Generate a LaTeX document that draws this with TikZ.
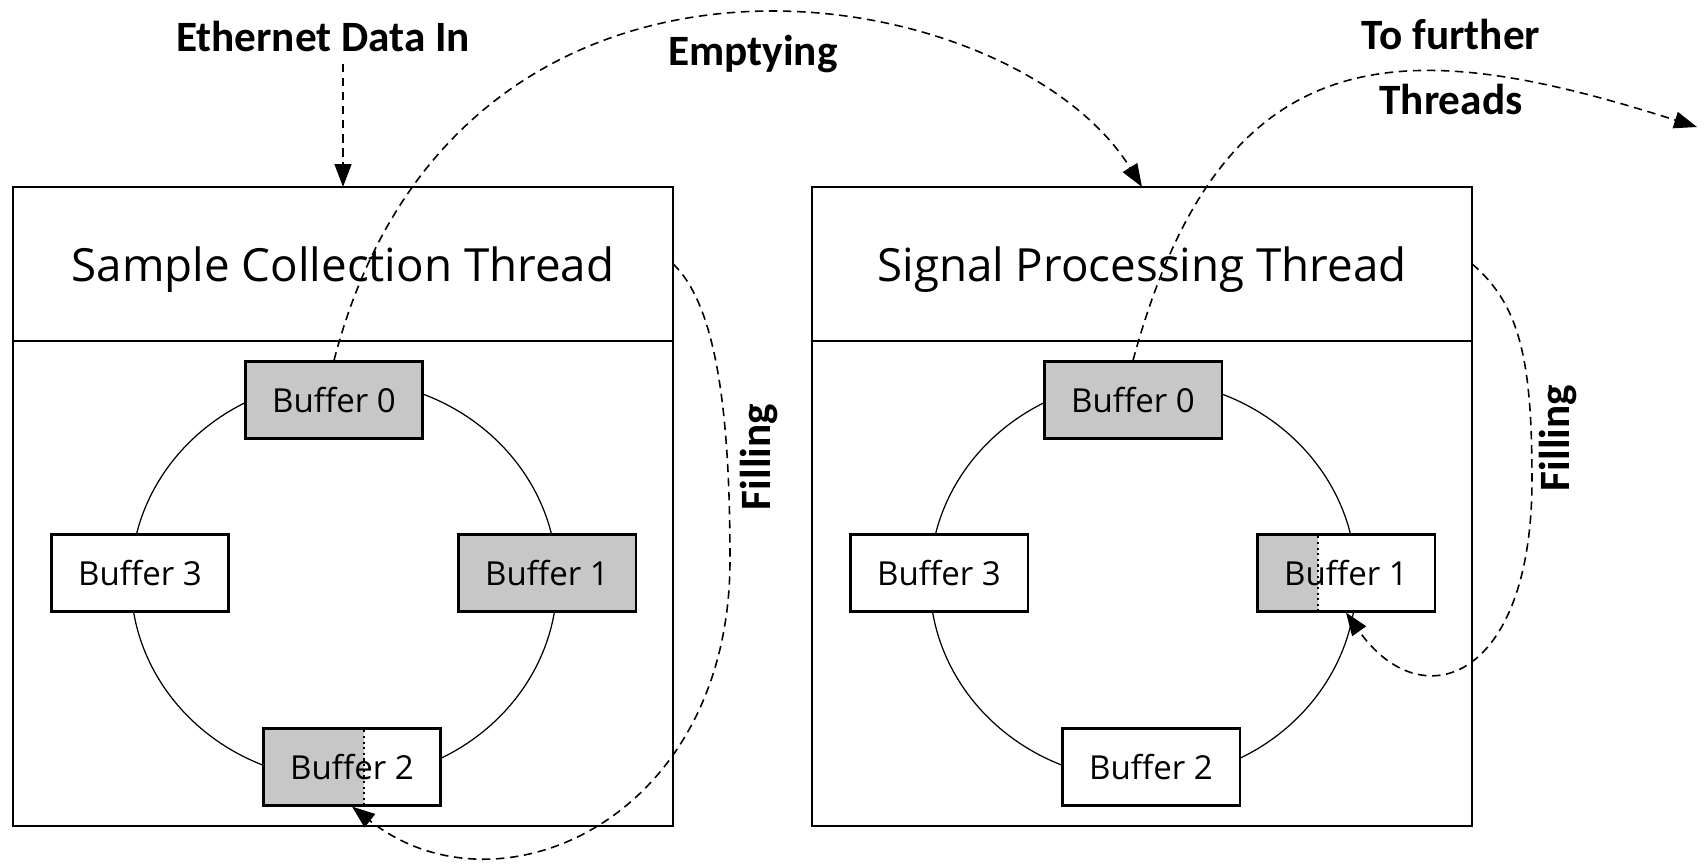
\documentclass[tikz,border=0pt]{standalone}
\usepackage{fontspec}
\setmainfont{Open Sans}
\newfontfamily\labelfont{Carlito}
\usetikzlibrary{arrows.meta,calc,positioning}
\colorlet{bufgray}{black!22}

\begin{document}
\begin{tikzpicture}[x=0.01cm, y=-0.01cm,
    thread/.style={draw, line width=0.6pt, minimum width=6.6cm, inner sep=0pt, outer sep=0pt},
    header/.style={minimum height=1.54cm, text depth=0pt, font=\fontsize{13}{16}\selectfont},
    body/.style={minimum height=4.85cm},
    buffer/.style={draw, fill=white, line width=0.6pt, minimum width=1.77cm, minimum height=0.77cm,
        inner sep=0pt, font=\fontsize{9.4}{11}\selectfont},
    full/.style={buffer, fill=bufgray},
    part/.style={buffer, path picture={
        \fill[bufgray] (path picture bounding box.south west) rectangle
            ($(path picture bounding box.north west)!#1!(path picture bounding box.north east)$);
        \draw[line width=0.6pt, densely dotted]
            ($(path picture bounding box.south west)!#1!(path picture bounding box.south east)$) --
            ($(path picture bounding box.north west)!#1!(path picture bounding box.north east)$);}},
    ring/.style={line width=0.35pt},
    flow/.style={line width=0.45pt, dash pattern=on 2.4pt off 1.6pt, -{Triangle[length=6.5pt,width=4.8pt]}},
    lbl/.style={font=\labelfont\bfseries\fontsize{12.3}{18.4}\selectfont, align=center}]

    \useasboundingbox (0,0) rectangle (1708,866);

    % Sample collection thread
    \begin{scope}[shift={(0,0)}]
        \node[thread, header] (H1) at (343,264) {Sample Collection Thread};
        \node[thread, body, below=0pt of H1] (T1) {};
        \draw[ring] (344,580) ellipse [x radius=2.13cm, y radius=2cm];
        \node[full] (A1) at (334,400) {Buffer 0};
        \node[full] (B1) at (547,573) {Buffer 1};
        \node[part=0.57] (C1) at (352,767) {Buffer 2};
        \node[buffer] (D1) at (140,573) {Buffer 3};
    \end{scope}

    % Signal processing thread
    \begin{scope}[shift={(799,0)}]
        \node[thread, header] (H2) at (343,264) {Signal Processing Thread};
        \node[thread, body, below=0pt of H2] (T2) {};
        \draw[ring] (344,580) ellipse [x radius=2.13cm, y radius=2cm];
        \node[full] (A2) at (334,400) {Buffer 0};
        \node[part=0.34] (B2) at (547,573) {Buffer 1};
        \node[buffer] (C2) at (352,767) {Buffer 2};
        \node[buffer] (D2) at (140,573) {Buffer 3};
    \end{scope}

    % labels
    \node[lbl] (eth) at (323,36) {Ethernet Data In};
    \node[lbl] (empty) at (753,54) {Emptying};
    \node[lbl] (further) at (1451,67) {To further\\Threads};
    \node[lbl, rotate=90] (fill1) at (759,457) {Filling};
    \node[lbl, rotate=90] (fill2) at (1558,438) {Filling};
    \coordinate (next) at (1697,127);

    % data flow between the threads
    \draw[flow] (eth.south -| H1.north) -- (H1.north);
    \draw[flow] (A1.north) .. controls (458,-118) and (1011,-25) .. (H2.north);
    \draw[flow] (A2.north) .. controls (1224,25) and (1411,36) .. (next);
    \draw[flow] (H1.east) .. controls (716,305) and (730,410) .. (730,560)
        .. controls (730,820) and (498,922) .. (C1.south);
    \draw[flow] (H2.east) .. controls (1520,305) and (1532,360) .. (1532,480)
        .. controls (1532,680) and (1422,720) .. (B2.south);
\end{tikzpicture}
\end{document}
